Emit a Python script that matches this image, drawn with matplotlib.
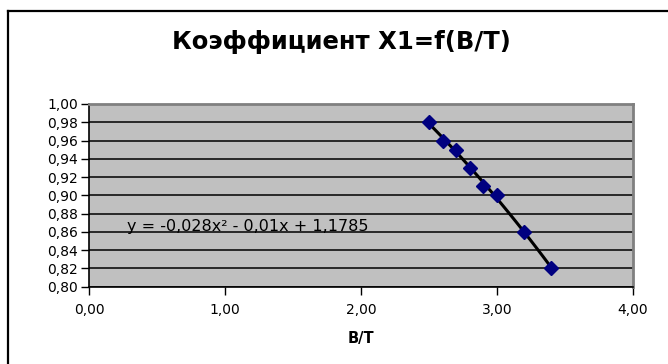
import matplotlib
matplotlib.use("Agg")
import matplotlib.pyplot as plt
import numpy as np
from matplotlib.lines import Line2D

# Data
bt = [2.5, 2.6, 2.7, 2.8, 2.9, 3.0, 3.2, 3.4]
x1 = [0.98, 0.96, 0.95, 0.93, 0.91, 0.90, 0.86, 0.82]
coef = [-0.028, -0.01, 1.1785]
title = "Коэффициент X1=f(B/T)"
xlabel = "B/T"
eq_label = "y = -0,028x² - 0,01x + 1,1785"
xticks = [0, 1, 2, 3, 4]
yticks = [0.80, 0.82, 0.84, 0.86, 0.88, 0.90, 0.92, 0.94, 0.96, 0.98, 1.00]

plt.rcParams['font.family'] = ['DejaVu Sans']

W, H = 668, 364
fig = plt.figure(figsize=(W / 100, H / 100), dpi=100)
fig.patch.set_facecolor('white')

# outer chart frame (left and top edges visible)
fx0, fy1 = 8 / W, 1 - 11 / H
fig.add_artist(Line2D([fx0, fx0], [0, fy1], transform=fig.transFigure, color='black', lw=1.6))
fig.add_artist(Line2D([fx0, 1.0], [fy1, fy1], transform=fig.transFigure, color='black', lw=1.6))

ax = fig.add_axes([89 / W, 1 - 286.7 / H, (633 - 89) / W, (286.7 - 104) / H])
ax.set_facecolor('#C0C0C0')
ax.set_xlim(0, 4)
ax.set_ylim(0.80, 1.00)

ax.set_yticks(yticks)
ax.set_yticklabels([f"{v:.2f}".replace('.', ',') for v in yticks], fontsize=10)
ax.set_xticks(xticks)
ax.set_xticklabels([f"{v:.2f}".replace('.', ',') for v in xticks], fontsize=10)
ax.tick_params(axis='y', direction='out', length=6, width=1, pad=2)
ax.tick_params(axis='x', direction='out', length=6, width=1, pad=6)

ax.yaxis.grid(True, color='black', lw=1.1)
ax.set_axisbelow(True)

for s in ['top', 'right']:
    ax.spines[s].set_color('#808080')
    ax.spines[s].set_linewidth(2)
for s in ['left', 'bottom']:
    ax.spines[s].set_color('black')
    ax.spines[s].set_linewidth(1.2)

# trendline (polynomial from the equation)
xs = np.linspace(min(bt), max(bt), 100)
ax.plot(xs, np.polyval(coef, xs), color='black', lw=2.2, zorder=3)
ax.plot(bt, x1, linestyle='none', marker='D', markersize=7, color='#000080', zorder=4)

ax.text(0.28, 0.8615, eq_label, fontsize=11.5, ha='left', va='baseline')

ax.set_xlabel(xlabel, fontsize=10.5, fontweight='bold', labelpad=10)

fig.text(341 / W, 1 - 42.5 / H, title, fontsize=17.5, fontweight='bold', ha='center', va='center')

fig.savefig('out.png', dpi=100)
